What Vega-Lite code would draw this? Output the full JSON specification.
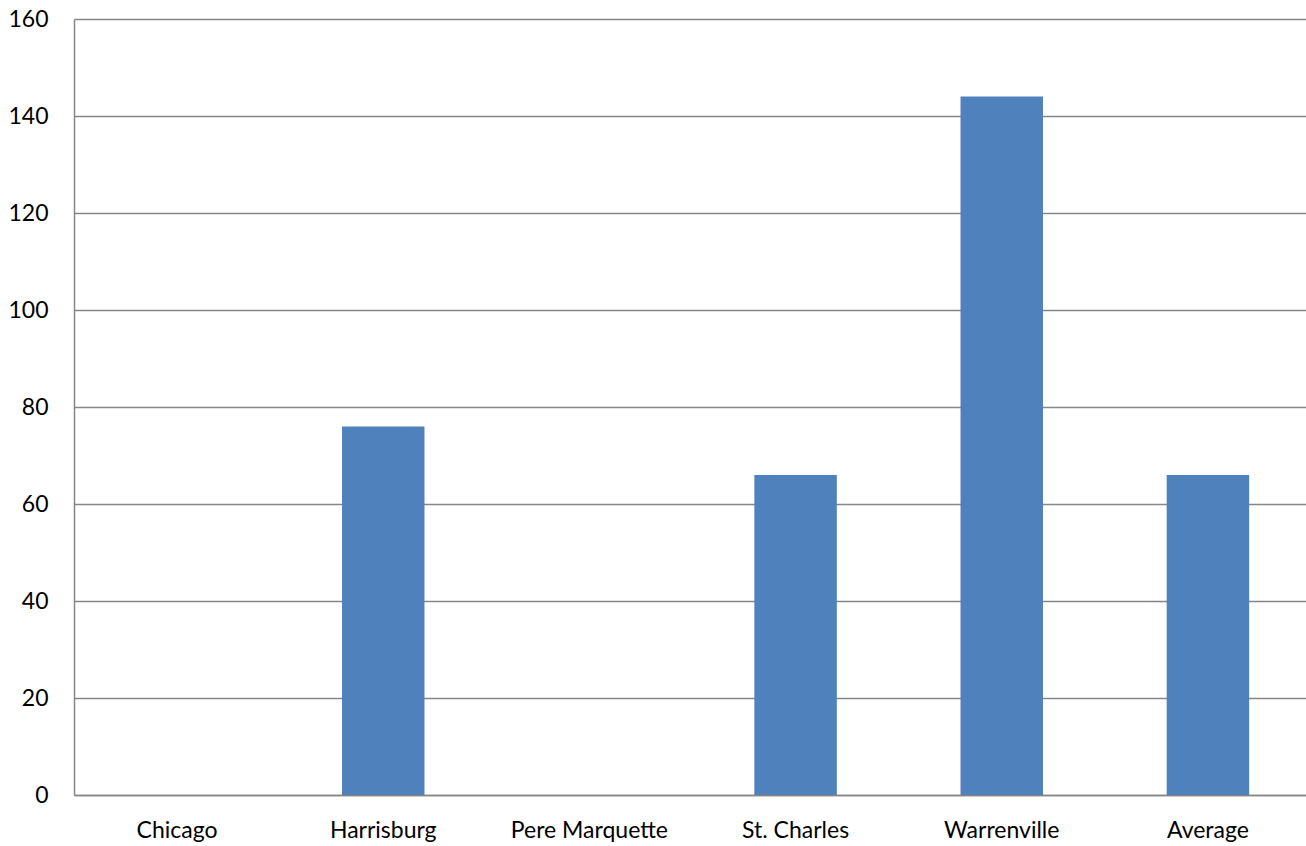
{
  "$schema": "https://vega.github.io/schema/vega-lite/v6.json",
  "autosize": {"type": "none"},
  "padding": {"left": 74, "top": 19, "right": 0, "bottom": 51},
  "width": 1237,
  "height": 776,
  "background": "white",
  "config": {
    "view": {"stroke": null},
    "font": "Lato"
  },
  "data": {
    "values": [
      {"site": "Chicago", "value": 0},
      {"site": "Harrisburg", "value": 76},
      {"site": "Pere Marquette", "value": 0},
      {"site": "St. Charles", "value": 66},
      {"site": "Warrenville", "value": 144},
      {"site": "Average", "value": 66}
    ]
  },
  "mark": {"type": "bar", "color": "#4F81BD"},
  "encoding": {
    "x": {
      "field": "site",
      "type": "nominal",
      "sort": null,
      "scale": {"paddingInner": 0.6, "paddingOuter": 0.3},
      "axis": {
        "title": null,
        "labelAngle": 0,
        "ticks": false,
        "domainColor": "#868686",
        "domainWidth": 1.5,
        "labelFontSize": 23,
        "labelColor": "#000000",
        "labelPadding": 24,
        "labelFont": "Lato"
      }
    },
    "y": {
      "field": "value",
      "type": "quantitative",
      "scale": {"domain": [0, 160]},
      "axis": {
        "title": null,
        "values": [0, 20, 40, 60, 80, 100, 120, 140, 160],
        "ticks": false,
        "grid": true,
        "gridColor": "#868686",
        "gridWidth": 1.5,
        "domainColor": "#868686",
        "domainWidth": 1.5,
        "labelFontSize": 23,
        "labelColor": "#000000",
        "labelPadding": 26,
        "labelFont": "Lato"
      }
    }
  }
}
